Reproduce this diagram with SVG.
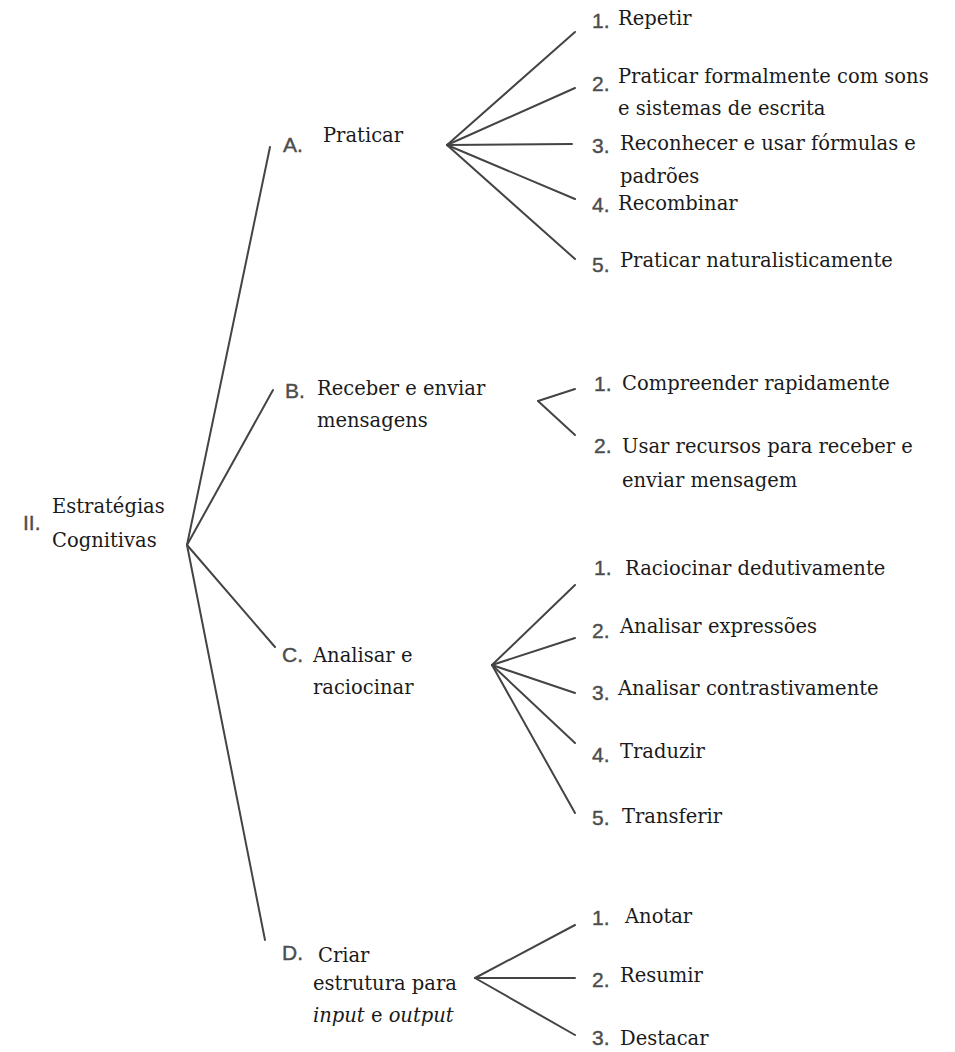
<svg xmlns="http://www.w3.org/2000/svg" width="955" height="1052" viewBox="0 0 955 1052">
<style>
.t{font-family:"DejaVu Serif","Liberation Serif",serif;font-size:19.5px;fill:#1a1a1a}
.n{font-family:"Liberation Sans","DejaVu Sans",sans-serif;font-size:21px;fill:#4d4d4d;stroke:#4d4d4d;stroke-width:0.4}
.i{font-style:italic}
.c line{stroke:#444;stroke-width:2;stroke-linecap:round}
</style>
<rect width="955" height="1052" fill="#fff"/>
<g id="connectors" class="c">
<line x1="187" y1="545" x2="270" y2="147"/>
<line x1="187" y1="545" x2="273" y2="390"/>
<line x1="187" y1="545" x2="275" y2="647"/>
<line x1="187" y1="545" x2="265" y2="940"/>
<line x1="447" y1="145" x2="575" y2="32"/>
<line x1="447" y1="145" x2="575" y2="88"/>
<line x1="447" y1="145" x2="572" y2="144"/>
<line x1="447" y1="145" x2="575" y2="199"/>
<line x1="447" y1="145" x2="575" y2="259"/>
<line x1="575" y1="389" x2="538" y2="401"/>
<line x1="538" y1="401" x2="575" y2="435"/>
<line x1="492" y1="665" x2="575" y2="585"/>
<line x1="492" y1="665" x2="575" y2="638"/>
<line x1="492" y1="665" x2="575" y2="693"/>
<line x1="492" y1="665" x2="575" y2="743"/>
<line x1="492" y1="665" x2="575" y2="813"/>
<line x1="475" y1="978" x2="575" y2="925"/>
<line x1="475" y1="978" x2="575" y2="978"/>
<line x1="475" y1="978" x2="575" y2="1035"/>
</g>
<g id="root">
<text class="n" x="23" y="530" font-size="18">II.</text>
<text class="t" x="52" y="513">Estratégias</text>
<text class="t" x="52" y="547">Cognitivas</text>
</g>
<g id="A">
<text class="n" x="283" y="152">A.</text>
<text class="t" x="323" y="142">Praticar</text>
</g>
<g id="A1"><text class="n" x="592" y="28">1.</text><text class="t" x="618" y="25">Repetir</text></g>
<g id="A2"><text class="n" x="592" y="91">2.</text><text class="t" x="618" y="83">Praticar formalmente com sons</text><text class="t" x="618" y="115">e sistemas de escrita</text></g>
<g id="A3"><text class="n" x="592" y="153">3.</text><text class="t" x="620" y="150">Reconhecer e usar fórmulas e</text><text class="t" x="620" y="183">padrões</text></g>
<g id="A4"><text class="n" x="592" y="212">4.</text><text class="t" x="618" y="210">Recombinar</text></g>
<g id="A5"><text class="n" x="592" y="272">5.</text><text class="t" x="620" y="267">Praticar naturalisticamente</text></g>
<g id="B">
<text class="n" x="285" y="398">B.</text>
<text class="t" x="317" y="395">Receber e enviar</text>
<text class="t" x="317" y="427">mensagens</text>
</g>
<g id="B1"><text class="n" x="594" y="391">1.</text><text class="t" x="622" y="390">Compreender rapidamente</text></g>
<g id="B2"><text class="n" x="594" y="453">2.</text><text class="t" x="622" y="453">Usar recursos para receber e</text><text class="t" x="622" y="487">enviar mensagem</text></g>
<g id="C">
<text class="n" x="282" y="662">C.</text>
<text class="t" x="313" y="662">Analisar e</text>
<text class="t" x="313" y="694">raciocinar</text>
</g>
<g id="C1"><text class="n" x="594" y="575">1.</text><text class="t" x="625" y="575">Raciocinar dedutivamente</text></g>
<g id="C2"><text class="n" x="592" y="638">2.</text><text class="t" x="620" y="633">Analisar expressões</text></g>
<g id="C3"><text class="n" x="592" y="700">3.</text><text class="t" x="618" y="695">Analisar contrastivamente</text></g>
<g id="C4"><text class="n" x="592" y="762">4.</text><text class="t" x="620" y="758">Traduzir</text></g>
<g id="C5"><text class="n" x="592" y="825">5.</text><text class="t" x="622" y="823">Transferir</text></g>
<g id="D">
<text class="n" x="282" y="960">D.</text>
<text class="t" x="318" y="962">Criar</text>
<text class="t" x="313" y="990">estrutura para</text>
<text class="t" x="313" y="1022"><tspan class="i">input</tspan> e <tspan class="i">output</tspan></text>
</g>
<g id="D1"><text class="n" x="592" y="925">1.</text><text class="t" x="625" y="923">Anotar</text></g>
<g id="D2"><text class="n" x="592" y="987">2.</text><text class="t" x="620" y="982">Resumir</text></g>
<g id="D3"><text class="n" x="592" y="1045">3.</text><text class="t" x="620" y="1045">Destacar</text></g>
</svg>
